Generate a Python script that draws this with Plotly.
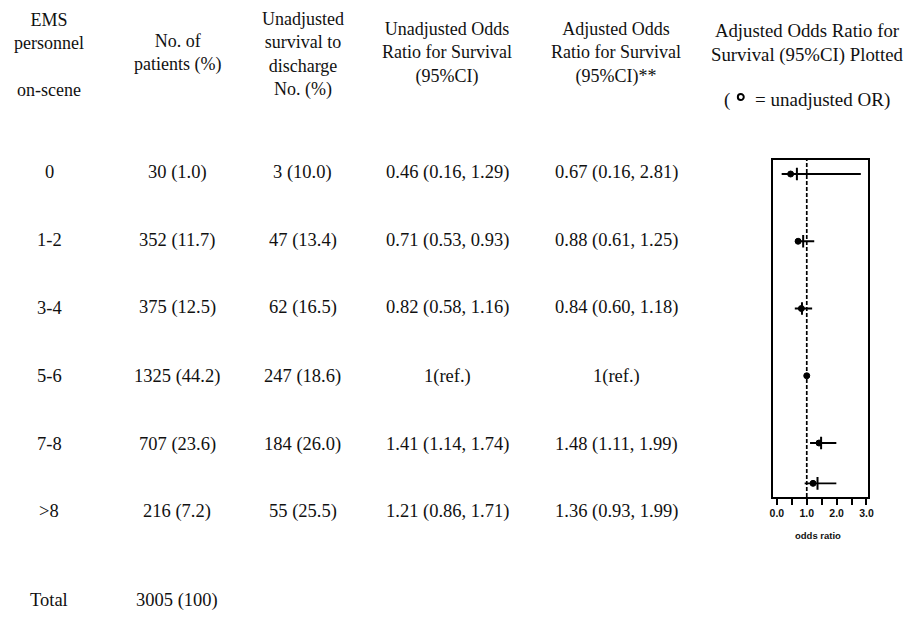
import plotly.graph_objects as go

# ---------------- data ----------------
groups = ["0", "1-2", "3-4", "5-6", "7-8", ">8"]
n_patients = [30, 352, 375, 1325, 707, 216]
pct_patients = [1.0, 11.7, 12.5, 44.2, 23.6, 7.2]
n_survived = [3, 47, 62, 247, 184, 55]
pct_survived = [10.0, 13.4, 16.5, 18.6, 26.0, 25.5]
unadj_or = [0.46, 0.71, 0.82, 1.0, 1.41, 1.21]
unadj_lo = [0.16, 0.53, 0.58, None, 1.14, 0.86]
unadj_hi = [1.29, 0.93, 1.16, None, 1.74, 1.71]
adj_or = [0.67, 0.88, 0.84, 1.0, 1.48, 1.36]
adj_lo = [0.16, 0.61, 0.60, None, 1.11, 0.93]
adj_hi = [2.81, 1.25, 1.18, None, 1.99, 1.99]
ref_index = 3
total_label = "Total"
total_n = 3005
total_pct = 100
or_ticks = [0, 1, 2, 3]
or_ticktext = ["0.0", "1.0", "2.0", "3.0"]

# ---------------- layout constants (pixels) ----------------
W, H = 908, 626
SERIF = "Liberation Serif, Times New Roman, serif"
SANS = "Liberation Sans, Arial, sans-serif"
FS_HEAD = 18
FS_ROW = 18.5
col_x = [46, 175, 302, 448, 619, 812]
row_y = [172, 240, 308, 376, 444, 511]
total_y = 600
forest_pos = [0, 1, 2, 3, 4, 4.6]   # vertical slots of the forest-plot rows
box_left, box_right, box_top, box_bottom = 778, 874, 160, 497
row0_px, slot_px = 174, 67.25
x0_px, unit_px = 781.5, 30.2


def px(x):
    return x / W


def py(y):
    return 1 - y / H


annotations = []


def txt(s, x, y, size=FS_ROW, font=SERIF, anchor="center", bold=False):
    annotations.append(dict(
        text=("<b>%s</b>" % s) if bold else s, x=px(x), y=py(y),
        xref="paper", yref="paper", xanchor=anchor, yanchor="middle",
        showarrow=False, align="center",
        font=dict(family=font, size=size, color="#111")))


# headers (multi-line, centred on the middle of their block)
headers = [
    (col_x[0], ["EMS", "personnel", "", "on-scene"], 55, FS_HEAD),
    (col_x[1], ["No. of", "patients (%)"], 53, FS_HEAD),
    (col_x[2], ["Unadjusted", "survival to", "discharge", "No. (%)"], 55, FS_HEAD),
    (col_x[3], ["Unadjusted Odds", "Ratio for Survival", "(95%CI)"], 53, FS_HEAD),
    (col_x[4], ["Adjusted Odds", "Ratio for Survival", "(95%CI)**"], 53, FS_HEAD),
    (col_x[5], ["Adjusted Odds Ratio for", "Survival (95%CI) Plotted"], 43, 18.8),
]
for x, lines, yc, fs in headers:
    txt("<br>".join(lines), x, yc, size=fs)
txt("(", 731, 100, size=19)
txt("= unadjusted OR)", 757, 100, size=19, anchor="left")


def fmt_or(v, lo, hi, i):
    if i == ref_index:
        return "1(ref.)"
    return "%.2f (%.2f, %.2f)" % (v, lo, hi)


for i, g in enumerate(groups):
    y = row_y[i]
    txt(g, col_x[0], y)
    txt("%d (%.1f)" % (n_patients[i], pct_patients[i]), col_x[1], y)
    txt("%d (%.1f)" % (n_survived[i], pct_survived[i]), col_x[2], y)
    txt(fmt_or(unadj_or[i], unadj_lo[i], unadj_hi[i], i), col_x[3], y)
    txt(fmt_or(adj_or[i], adj_lo[i], adj_hi[i], i), col_x[4], y)
txt(total_label, col_x[0], total_y)
txt("%d (%d)" % (total_n, total_pct), col_x[1], total_y)

# forest plot axis title
txt("odds ratio", (box_left + box_right) / 2 - 3, box_bottom + 38, size=9.5,
    font=SANS, bold=True)

# ---------------- forest plot ----------------
fig = go.Figure()
for i in range(len(groups)):
    if adj_lo[i] is None:
        continue
    fig.add_trace(go.Scatter(
        x=[adj_lo[i], adj_hi[i]], y=[forest_pos[i], forest_pos[i]],
        mode="lines", line=dict(color="black", width=1.8),
        showlegend=False, hoverinfo="skip"))
fig.add_trace(go.Scatter(
    x=[adj_or[i] for i in range(len(groups)) if i != ref_index],
    y=[forest_pos[i] for i in range(len(groups)) if i != ref_index],
    mode="markers", marker=dict(symbol="line-ns", size=9,
                                line=dict(color="black", width=2)),
    showlegend=False))
fig.add_trace(go.Scatter(
    x=unadj_or, y=forest_pos, mode="markers",
    marker=dict(symbol="circle", size=6, color="black",
                line=dict(color="black", width=1)),
    showlegend=False))

xr = [(box_left - x0_px) / unit_px, (box_right - x0_px) / unit_px]
yr = [(box_bottom - row0_px) / slot_px, (box_top - row0_px) / slot_px]

fig.update_layout(
    width=W, height=H, margin=dict(l=0, r=0, t=0, b=0),
    paper_bgcolor="white", plot_bgcolor="white",
    annotations=annotations,
    xaxis=dict(domain=[px(box_left), px(box_right)], range=xr,
               showgrid=False, zeroline=False, showline=True, mirror=True,
               linecolor="black", linewidth=1.6,
               tickvals=or_ticks, ticktext=or_ticktext,
               ticks="outside", ticklen=6, tickwidth=1.5, tickcolor="black",
               minor=dict(dtick=0.5, tick0=0, ticks="outside", ticklen=6,
                          tickwidth=1.5, tickcolor="black"),
               tickfont=dict(family=SANS, size=10.5, color="#111", weight="bold"),
               fixedrange=True),
    yaxis=dict(domain=[py(box_bottom), py(box_top)], range=yr,
               showgrid=False, zeroline=False, showline=True, mirror=True,
               linecolor="black", linewidth=1.6, showticklabels=False,
               ticks="", fixedrange=True),
    shapes=[
        dict(type="line", xref="x", yref="y domain", x0=1, x1=1, y0=0, y1=1,
             line=dict(color="black", width=1.7, dash="4px,2px")),
        dict(type="circle", xref="paper", yref="paper",
             x0=px(742), x1=px(748), y0=py(100), y1=py(94),
             line=dict(color="black", width=2)),
    ],
)

fig.write_html("out.html", config={"displayModeBar": False})
